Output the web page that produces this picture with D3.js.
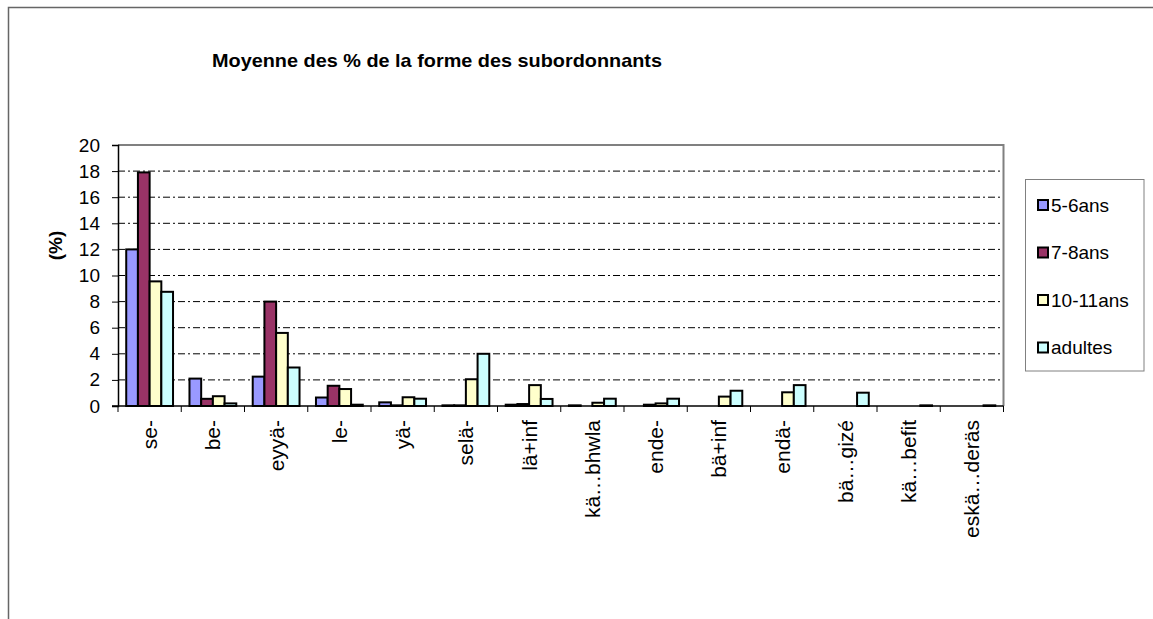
<!DOCTYPE html>
<html>
<head>
<meta charset="utf-8">
<script src="https://cdn.jsdelivr.net/npm/d3@7/dist/d3.min.js"></script>
<style>
	body { margin: 0; background: #fff; }
	text { font-family: "Liberation Sans", Arial, sans-serif; fill: #000; }
</style>
</head>
<body>
<div id="chart"></div>
<script>
var categories = ['se-', 'be-', 'eyyä-', 'le-', 'yä-', 'selä-', 'lä+inf', 'kä…bhwla', 'ende-', 'bä+inf', 'endä-', 'bä…gizé', 'kä…befit', 'eskä…deräs'];
var seriesNames = ['5-6ans', '7-8ans', '10-11ans', 'adultes'];
var ans5_6 = [12.0, 2.1, 2.25, 0.65, 0.28, 0.05, 0.1, 0.05, 0, 0, 0, 0, 0, 0];
var ans7_8 = [17.9, 0.55, 8.0, 1.55, 0.05, 0.05, 0.15, 0, 0.1, 0, 0, 0, 0, 0];
var ans10_11 = [9.55, 0.75, 5.6, 1.3, 0.67, 2.05, 1.6, 0.25, 0.2, 0.72, 1.05, 0, 0, 0];
var adultes = [8.75, 0.2, 2.95, 0.1, 0.56, 4.0, 0.54, 0.56, 0.56, 1.17, 1.6, 1.02, 0.05, 0.05];
var yTicks = [0, 2, 4, 6, 8, 10, 12, 14, 16, 18, 20];
var colors = ['#9999ff', '#993366', '#ffffcc', '#ccffff'];

var cfg = {
	w: 1153,
	h: 619,
	left: 118,
	right: 1003.5,
	top: 145,
	bottom: 406
};

var data = categories.map(function (c, i) {
	return { key: c, values: [ans5_6[i], ans7_8[i], ans10_11[i], adultes[i]] };
});

var svg = d3.select('#chart').append('svg')
	.attr('width', cfg.w)
	.attr('height', cfg.h);

// cadre du graphique
svg.append('rect')
	.attr('x', 8.5).attr('y', 7.5)
	.attr('width', 1200).attr('height', 700)
	.attr('fill', 'none')
	.attr('stroke', '#666')
	.attr('stroke-width', 1.5);

svg.append('text')
	.attr('x', 212)
	.attr('y', 67)
	.attr('textLength', 450)
	.attr('lengthAdjust', 'spacingAndGlyphs')
	.style('font-size', '19px')
	.style('font-weight', 'bold')
	.text('Moyenne des % de la forme des subordonnants');

var x0 = d3.scaleBand()
	.domain(categories)
	.range([cfg.left, cfg.right]);
var x1 = d3.scaleBand()
	.domain(seriesNames)
	.range([x0.bandwidth() * 0.13, x0.bandwidth() * 0.87]);
var y = d3.scaleLinear()
	.domain([0, 20])
	.range([cfg.bottom, cfg.top]);

// grille
svg.append('g')
	.selectAll('line')
	.data(yTicks.filter(function (d) { return d > 0 && d < 20; }))
	.enter()
	.append('line')
	.attr('x1', cfg.left).attr('x2', cfg.right)
	.attr('y1', function (d) { return y(d); })
	.attr('y2', function (d) { return y(d); })
	.attr('stroke', '#000')
	.attr('stroke-width', 1)
	.attr('stroke-dasharray', '7,3,2,3');

// bord haut et droit de la zone de tracé
svg.append('path')
	.attr('d', 'M' + cfg.left + ',' + y(20) + 'H' + cfg.right + 'V' + y(0))
	.attr('fill', 'none')
	.attr('stroke', '#808080')
	.attr('stroke-width', 2);

// barres
var groups = svg.append('g')
	.selectAll('g')
	.data(data)
	.enter()
	.append('g')
	.attr('transform', function (d) { return 'translate(' + x0(d.key) + ',0)'; });

groups.selectAll('rect')
	.data(function (d) {
		return d.values.map(function (v, i) { return { s: seriesNames[i], v: v, i: i }; })
			.filter(function (e) { return e.v > 0; });
	})
	.enter()
	.append('rect')
	.attr('x', function (d) { return x1(d.s); })
	.attr('y', function (d) { return y(d.v); })
	.attr('width', x1.bandwidth())
	.attr('height', function (d) { return y(0) - y(d.v); })
	.attr('fill', function (d) { return colors[d.i]; })
	.attr('stroke', '#000')
	.attr('stroke-width', 2);

// axes
var yAxis = d3.axisLeft(y).tickValues(yTicks).tickSize(6).tickPadding(12);
svg.append('g')
	.attr('transform', 'translate(' + cfg.left + ',0)')
	.call(yAxis)
	.call(function (g) {
		g.select('.domain').attr('stroke', '#000').attr('stroke-width', 1.5);
		g.selectAll('.tick text').style('font-size', '19px').attr('fill', '#000');
	});

var xAxis = svg.append('g')
	.attr('transform', 'translate(0,' + cfg.bottom + ')');
xAxis.append('line')
	.attr('x1', cfg.left - 6).attr('x2', cfg.right)
	.attr('stroke', '#000').attr('stroke-width', 1.5);
xAxis.selectAll('.tk')
	.data(categories.concat(['end']))
	.enter()
	.append('line')
	.attr('x1', function (d, i) { return cfg.left + i * x0.step(); })
	.attr('x2', function (d, i) { return cfg.left + i * x0.step(); })
	.attr('y1', 0).attr('y2', 6)
	.attr('stroke', '#000');
xAxis.selectAll('.lbl')
	.data(categories)
	.enter()
	.append('text')
	.attr('transform', function (d) {
		return 'translate(' + (x0(d) + x0.bandwidth() / 2 + 7.5) + ',14) rotate(-90)';
	})
	.style('text-anchor', 'end')
	.style('font-size', '21px')
	.text(function (d) { return d; });

svg.append('text')
	.attr('transform', 'translate(62,' + ((cfg.top + cfg.bottom) / 2 - 30) + ') rotate(-90)')
	.style('text-anchor', 'middle')
	.style('font-size', '19px')
	.style('font-weight', 'bold')
	.text('(%)');

// légende
var legend = svg.append('g');
legend.append('rect')
	.attr('x', 1025.5).attr('y', 179.5)
	.attr('width', 118.5).attr('height', 191.5)
	.attr('fill', '#fff')
	.attr('stroke', '#808080');
var items = legend.selectAll('.item')
	.data(seriesNames)
	.enter()
	.append('g')
	.attr('transform', function (d, i) { return 'translate(1038,' + (205 + i * 47.5) + ')'; });
items.append('rect')
	.attr('x', 0).attr('y', -5)
	.attr('width', 10).attr('height', 10)
	.attr('fill', function (d, i) { return colors[i]; })
	.attr('stroke', '#000')
	.attr('stroke-width', 2);
items.append('text')
	.attr('x', 13)
	.attr('y', 6.5)
	.style('font-size', '19px')
	.text(function (d) { return d; });
</script>
</body>
</html>
